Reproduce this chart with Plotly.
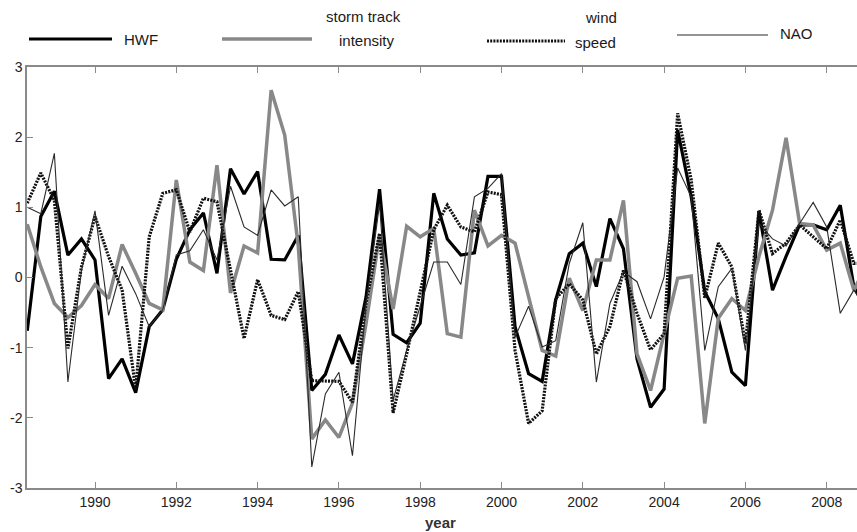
import plotly.graph_objects as go

# ---- data (three values per year, first at 1988 1/3) ----
start_year = 1988 + 1 / 3
step = 1 / 3

hwf = [-0.76, 0.87, 1.23, 0.32, 0.55, 0.25, -1.44, -1.16, -1.64, -0.70,
       -0.46, 0.26, 0.68, 0.92, 0.06, 1.55, 1.19, 1.51, 0.26, 0.25,
       0.60, -1.61, -1.38, -0.82, -1.23, -0.28, 1.26, -0.81, -0.93, -0.65,
       1.20, 0.55, 0.32, 0.35, 1.44, 1.44, -0.70, -1.37, -1.48, -0.32,
       0.34, 0.49, -0.13, 0.84, 0.41, -1.16, -1.85, -1.59, 2.10, 1.15,
       -0.20, -0.59, -1.35, -1.54, 0.94, -0.18, 0.30, 0.75, 0.75, 0.68,
       1.03, -0.13, -0.50]
storm = [0.76, 0.15, -0.37, -0.57, -0.40, -0.10, -0.30, 0.47, 0.06, -0.37,
         -0.46, 1.39, 0.22, 0.10, 1.60, -0.22, 0.45, 0.35, 2.67, 2.03,
         0.45, -2.30, -2.03, -2.28, -1.79, -0.66, 0.60, -0.45, 0.73, 0.58,
         0.70, -0.80, -0.85, 0.96, 0.45, 0.60, 0.49, -0.30, -1.04, -1.12,
         -0.01, -0.47, 0.25, 0.25, 1.10, -1.09, -1.61, -0.80, -0.01, 0.02,
         -2.08, -0.58, -0.30, -0.47, 0.30, 0.96, 1.99, 0.77, 0.75, 0.39,
         0.49, -0.18, 0.20]
wind = [1.06, 1.49, 1.10, -1.01, 0.15, 0.87, 0.30, -0.18, -1.59, 0.58,
        1.20, 1.25, 0.65, 1.13, 1.08, 0.10, -0.87, -0.03, -0.54, -0.60,
        -0.20, -1.47, -1.48, -1.48, -1.78, -0.37, 0.63, -1.93, -1.09, -0.23,
        0.68, 1.03, 0.72, 0.65, 1.22, 1.18, -1.04, -2.08, -1.90, -0.30,
        -0.09, -0.32, -1.09, -0.70, 0.10, -0.51, -1.03, -0.80, 2.34, 1.39,
        -0.29, 0.49, 0.15, -0.94, 0.96, 0.34, 0.49, 0.75, 0.58, 0.41,
        0.82, 0.20, 0.20]
nao = [1.00, 0.91, 1.77, -1.49, 0.10, 0.95, -0.54, 0.16, -0.23, -0.70,
       -0.46, 0.32, 0.38, 0.68, 0.25, 1.30, 0.72, 0.60, 1.25, 1.02,
       1.15, -2.70, -1.66, -1.35, -2.54, -0.40, 1.05, -1.75, -1.04, -0.40,
       0.22, 0.22, -0.10, 1.15, 1.27, 1.48, -0.85, -0.41, -0.99, -0.90,
       0.20, 0.78, -1.49, -0.37, 0.08, -0.06, -0.59, 0.01, 1.56, 1.15,
       -1.04, -0.13, 0.13, -1.04, 0.77, 0.55, 0.45, 0.77, 1.07, 0.72,
       -0.51, -0.18, -0.45]

x_ticks = [1990, 1992, 1994, 1996, 1998, 2000, 2002, 2004, 2006, 2008]
y_ticks = [-3, -2, -1, 0, 1, 2, 3]

years = [start_year + i * step for i in range(len(hwf))]

# ---- styles / layout (screen pixels) ----
FONT = "Liberation Sans, Arial, sans-serif"
GREY = "#888888"
AXIS = "#8a8a8a"
W, H = 857, 532
ML, MT = 27, 67
PR, PB = 857, 488
MR, MB = W - PR, H - PB
PW, PH = PR - ML, PB - MT


def px(xs):
    return (xs - ML) / PW


def py(ys):
    return (PB - ys) / PH


series = [
    ("HWF", hwf, dict(color="#000000", width=3.2)),
    ("storm track intensity", storm, dict(color=GREY, width=3.5)),
    ("wind speed", wind, dict(color="#111111", width=3.2, dash="2px,1.2px")),
    ("NAO", nao, dict(color="#2a2a2a", width=1.1)),
]

fig = go.Figure()
for name, vals, line in series:
    fig.add_trace(go.Scatter(x=years, y=vals, mode="lines", name=name,
                             line=line, showlegend=False))

# ---- hand-built legend across the top ----
legend_items = [
    (29, 112, 39, series[0][2]),
    (222, 312, 39, series[1][2]),
    (487, 565, 41, series[2][2]),
    (677, 768, 35, series[3][2]),
]
shapes = []
for x0, x1, yy, line in legend_items:
    shapes.append(dict(type="line", xref="paper", yref="paper",
                       x0=px(x0), x1=px(x1), y0=py(yy), y1=py(yy),
                       line=line))

ann_font = dict(family=FONT, size=15, color="#1a1a1a")
annotations = [
    dict(text="HWF", x=px(122), y=py(39), xanchor="left", yanchor="middle"),
    dict(text="storm track", x=px(363), y=py(16), xanchor="center", yanchor="middle"),
    dict(text="intensity", x=px(367), y=py(40), xanchor="center", yanchor="middle"),
    dict(text="wind", x=px(601), y=py(17), xanchor="center", yanchor="middle"),
    dict(text="speed", x=px(595), y=py(42), xanchor="center", yanchor="middle"),
    dict(text="NAO", x=px(778), y=py(34), xanchor="left", yanchor="middle"),
    dict(text="<b>year</b>", x=px(440), y=py(522), xanchor="center", yanchor="middle",
         font=dict(family=FONT, size=15, color="#333333")),
]
for a in annotations:
    a.update(xref="paper", yref="paper", showarrow=False)
    a.setdefault("font", ann_font)

fig.update_layout(
    width=W, height=H,
    margin=dict(l=ML, r=MR, t=MT, b=MB, pad=0),
    paper_bgcolor="white", plot_bgcolor="white",
    shapes=shapes, annotations=annotations,
    font=dict(family=FONT, size=14, color="#222222"),
)
fig.update_xaxes(range=[1988.327, 2008.745], tickvals=x_ticks,
                 ticks="inside", ticklen=6, tickcolor=AXIS, tickwidth=1.2,
                 showline=True, linecolor=AXIS, linewidth=1.5, mirror="ticks",
                 showgrid=False, zeroline=False,
                 tickfont=dict(family=FONT, size=14, color="#222222"))
fig.update_yaxes(range=[-3, 3], tickvals=y_ticks,
                 ticktext=[str(v) for v in y_ticks],
                 ticks="inside", ticklen=6, tickcolor=AXIS, tickwidth=1.2,
                 showline=True, linecolor=AXIS, linewidth=1.5, mirror=False,
                 showgrid=False, zeroline=False,
                 tickfont=dict(family=FONT, size=14, color="#222222"))

# remove the browser's default page margin so the figure sits at the window corner
fig.write_html("out.html",
               config={"displayModeBar": False},
               post_script="document.body.style.margin='0px';document.body.style.overflow='hidden';")
